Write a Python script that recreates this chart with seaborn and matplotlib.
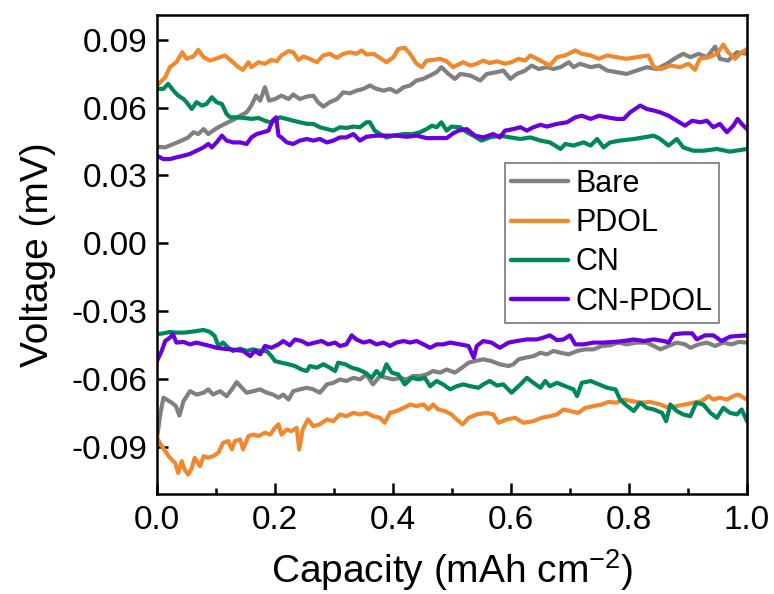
import numpy as np
import pandas as pd
import matplotlib
matplotlib.use("Agg")
import matplotlib.pyplot as plt
import seaborn as sns
from matplotlib.ticker import MultipleLocator, FormatStrFormatter

samples = ["Bare", "PDOL", "CN", "CN-PDOL"]
colors = ["#808080", "#f0892e", "#00875a", "#6a00dc"]

# ---- charge branch (positive voltage) ----
bare_cx = [0.0, 0.014, 0.028, 0.042, 0.053, 0.062, 0.070, 0.079, 0.087, 0.095,
           0.104, 0.115, 0.129, 0.141, 0.152, 0.160, 0.168, 0.175, 0.183, 0.190,
           0.200, 0.211, 0.223, 0.231, 0.242, 0.254, 0.265, 0.273, 0.282, 0.293,
           0.305, 0.316, 0.327, 0.338, 0.350, 0.361, 0.372, 0.384, 0.395, 0.406,
           0.418, 0.429, 0.440, 0.451, 0.463, 0.474, 0.482, 0.494, 0.505,
           0.514, 0.531, 0.548, 0.559, 0.576, 0.587, 0.599, 0.610, 0.624, 0.635,
           0.647, 0.661, 0.672, 0.684, 0.698, 0.706, 0.717, 0.735, 0.749, 0.763,
           0.779, 0.796, 0.813, 0.830, 0.847, 0.864, 0.881, 0.892, 0.904, 0.918,
           0.932, 0.946, 0.954, 0.968, 0.983, 1.0]
bare_cy = [0.0427, 0.0424, 0.0439, 0.0454, 0.0468, 0.0491, 0.0483, 0.0505, 0.0483, 0.0498,
           0.0513, 0.0528, 0.0545, 0.0564, 0.0579, 0.0609, 0.0653, 0.0631, 0.0690, 0.0631,
           0.0638, 0.0653, 0.0638, 0.0658, 0.0638, 0.0649, 0.0653, 0.0624, 0.0604, 0.0624,
           0.0638, 0.0668, 0.0663, 0.0675, 0.0683, 0.0698, 0.0683, 0.0675, 0.0683, 0.0668,
           0.0690, 0.0698, 0.0720, 0.0727, 0.0742, 0.0757, 0.0779, 0.0749, 0.0727,
           0.0749, 0.0742, 0.0720, 0.0749, 0.0757, 0.0764, 0.0727, 0.0749, 0.0764, 0.0786,
           0.0771, 0.0779, 0.0771, 0.0779, 0.0801, 0.0779, 0.0794, 0.0779, 0.0786, 0.0764,
           0.0757, 0.0749, 0.0764, 0.0779, 0.0771, 0.0794, 0.0823, 0.0838, 0.0823, 0.0838,
           0.0823, 0.0870, 0.0816, 0.0808, 0.0845, 0.0838]

pdol_cx = [0.0, 0.014, 0.022, 0.033, 0.043, 0.050, 0.062, 0.070, 0.079, 0.090,
           0.104, 0.115, 0.127, 0.138, 0.146, 0.155, 0.160, 0.172, 0.183, 0.194,
           0.203, 0.211, 0.223, 0.231, 0.240, 0.248, 0.259, 0.271, 0.282, 0.293,
           0.305, 0.316, 0.327, 0.338, 0.347, 0.355, 0.367, 0.378, 0.389, 0.401,
           0.409, 0.420, 0.429, 0.440, 0.449, 0.457, 0.468, 0.480, 0.491, 0.502,
           0.519, 0.531, 0.542, 0.553, 0.564, 0.576, 0.590, 0.601, 0.613, 0.624,
           0.633, 0.644, 0.655, 0.666, 0.678, 0.692, 0.709, 0.720, 0.735, 0.749,
           0.763, 0.779, 0.796, 0.813, 0.833, 0.842, 0.855, 0.870, 0.887, 0.901,
           0.912, 0.920, 0.935, 0.949, 0.960, 0.968, 0.980, 0.988, 1.0]
pdol_cy = [0.0698, 0.0734, 0.0779, 0.0801, 0.0845, 0.0816, 0.0826, 0.0856, 0.0823, 0.0808,
           0.0820, 0.0831, 0.0805, 0.0779, 0.0767, 0.0801, 0.0779, 0.0801, 0.0794, 0.0811,
           0.0805, 0.0831, 0.0850, 0.0845, 0.0811, 0.0826, 0.0816, 0.0801, 0.0831, 0.0838,
           0.0820, 0.0838, 0.0845, 0.0838, 0.0853, 0.0835, 0.0838, 0.0820, 0.0801, 0.0823,
           0.0860, 0.0865, 0.0838, 0.0794, 0.0779, 0.0808, 0.0811, 0.0816, 0.0805, 0.0779,
           0.0801, 0.0786, 0.0794, 0.0808, 0.0797, 0.0805, 0.0794, 0.0801, 0.0816, 0.0808,
           0.0831, 0.0816, 0.0801, 0.0786, 0.0823, 0.0831, 0.0853, 0.0838, 0.0831, 0.0816,
           0.0831, 0.0823, 0.0816, 0.0823, 0.0831, 0.0779, 0.0771, 0.0786, 0.0779, 0.0794,
           0.0767, 0.0816, 0.0823, 0.0838, 0.0879, 0.0845, 0.0816, 0.0838, 0.0860]

cn_cx = [0.0, 0.011, 0.019, 0.028, 0.036, 0.045, 0.050, 0.059, 0.067, 0.076,
         0.084, 0.093, 0.101, 0.110, 0.118, 0.124, 0.135, 0.149, 0.160, 0.172,
         0.183, 0.192, 0.200, 0.208, 0.220, 0.231, 0.242, 0.254, 0.265, 0.276,
         0.288, 0.299, 0.310, 0.321, 0.333, 0.344, 0.355, 0.361, 0.369, 0.378,
         0.389, 0.401, 0.418, 0.434, 0.446, 0.457, 0.466, 0.474, 0.482, 0.491,
         0.499,
         0.514, 0.525, 0.536, 0.550, 0.564, 0.581, 0.599, 0.616, 0.633, 0.650,
         0.666, 0.684, 0.692, 0.706, 0.723, 0.735, 0.746, 0.757, 0.768, 0.785,
         0.808, 0.825, 0.842, 0.853, 0.867, 0.881, 0.892, 0.909, 0.926, 0.949,
         0.971, 1.0]
cn_cy = [0.0683, 0.0683, 0.0705, 0.0675, 0.0653, 0.0638, 0.0624, 0.0594, 0.0624, 0.0609,
         0.0616, 0.0646, 0.0624, 0.0616, 0.0572, 0.0557, 0.0557, 0.0554, 0.0550, 0.0554,
         0.0542, 0.0535, 0.0542, 0.0557, 0.0550, 0.0542, 0.0535, 0.0528, 0.0528, 0.0513,
         0.0505, 0.0498, 0.0513, 0.0510, 0.0516, 0.0513, 0.0535, 0.0535, 0.0498, 0.0483,
         0.0468, 0.0476, 0.0483, 0.0483, 0.0491, 0.0505, 0.0520, 0.0513, 0.0535, 0.0498,
         0.0516,
         0.0513, 0.0491, 0.0476, 0.0454, 0.0468, 0.0476, 0.0468, 0.0461, 0.0468, 0.0454,
         0.0446, 0.0417, 0.0439, 0.0432, 0.0446, 0.0432, 0.0461, 0.0424, 0.0446, 0.0454,
         0.0461, 0.0468, 0.0476, 0.0461, 0.0432, 0.0461, 0.0424, 0.0409, 0.0409, 0.0417,
         0.0405, 0.0417]

cnp_cx = [0.0, 0.011, 0.022, 0.033, 0.045, 0.056, 0.067, 0.079, 0.087, 0.093,
          0.101, 0.110, 0.118, 0.129, 0.141, 0.152, 0.160, 0.169, 0.180, 0.189,
          0.196, 0.202, 0.206, 0.211, 0.220, 0.231, 0.242, 0.254, 0.265, 0.276,
          0.288, 0.299, 0.310, 0.321, 0.333, 0.344, 0.355, 0.372, 0.389, 0.406,
          0.423, 0.440, 0.457, 0.474, 0.491, 0.502,
          0.511, 0.525, 0.539, 0.553, 0.570, 0.581, 0.590, 0.604, 0.616, 0.627,
          0.638, 0.650, 0.661, 0.678, 0.695, 0.709, 0.720, 0.735, 0.749, 0.763,
          0.779, 0.791, 0.802, 0.819, 0.830, 0.842, 0.853, 0.867, 0.881, 0.895,
          0.907, 0.921, 0.932, 0.943, 0.954, 0.966, 0.977, 0.984, 0.991, 1.0]
cnp_cy = [0.0387, 0.0372, 0.0372, 0.0380, 0.0387, 0.0395, 0.0409, 0.0424, 0.0439, 0.0424,
          0.0446, 0.0476, 0.0454, 0.0446, 0.0446, 0.0439, 0.0468, 0.0483, 0.0491, 0.0498,
          0.0542, 0.0557, 0.0476, 0.0468, 0.0446, 0.0439, 0.0454, 0.0461, 0.0454, 0.0461,
          0.0446, 0.0454, 0.0468, 0.0468, 0.0483, 0.0454, 0.0471, 0.0476, 0.0476, 0.0476,
          0.0471, 0.0476, 0.0465, 0.0465, 0.0465, 0.0486,
          0.0498, 0.0505, 0.0476, 0.0468, 0.0483, 0.0468, 0.0498, 0.0505, 0.0513, 0.0498,
          0.0513, 0.0524, 0.0516, 0.0528, 0.0535, 0.0557, 0.0564, 0.0550, 0.0564, 0.0557,
          0.0550, 0.0550, 0.0579, 0.0609, 0.0594, 0.0587, 0.0579, 0.0564, 0.0542, 0.0520,
          0.0542, 0.0535, 0.0542, 0.0513, 0.0528, 0.0491, 0.0520, 0.0550, 0.0528, 0.0505]

# ---- discharge branch (negative voltage) ----
bare_dx = [0.0, 0.006, 0.011, 0.016, 0.025, 0.032, 0.038, 0.045, 0.056, 0.067,
           0.079, 0.087, 0.095, 0.107, 0.118, 0.127, 0.135, 0.144, 0.152, 0.163,
           0.175, 0.186, 0.197, 0.206, 0.214, 0.223, 0.231, 0.242, 0.254, 0.265,
           0.276, 0.288, 0.299, 0.310, 0.321, 0.333, 0.344, 0.355, 0.366, 0.378,
           0.389, 0.401, 0.412, 0.423, 0.434, 0.446, 0.457, 0.468, 0.480, 0.491,
           0.505, 0.517, 0.528, 0.539, 0.553, 0.567, 0.581, 0.596, 0.604, 0.613,
           0.624, 0.638, 0.650, 0.661, 0.672, 0.684, 0.698, 0.712, 0.726, 0.740,
           0.754, 0.768, 0.782, 0.796, 0.813, 0.830, 0.842, 0.853, 0.867, 0.881,
           0.895, 0.904, 0.918, 0.932, 0.946, 0.960, 0.974, 0.986, 1.0]
bare_dy = [-0.0862, -0.0751, -0.0684, -0.0692, -0.0706, -0.0721, -0.0763, -0.0699, -0.0655, -0.0670,
           -0.0662, -0.0647, -0.0670, -0.0655, -0.0677, -0.0647, -0.0615, -0.0640, -0.0662, -0.0655,
           -0.0647, -0.0662, -0.0670, -0.0684, -0.0670, -0.0692, -0.0655, -0.0647, -0.0640, -0.0647,
           -0.0662, -0.0625, -0.0618, -0.0603, -0.0610, -0.0596, -0.0603, -0.0581, -0.0625, -0.0588,
           -0.0596, -0.0603, -0.0596, -0.0603, -0.0588, -0.0588, -0.0581, -0.0566, -0.0573, -0.0559,
           -0.0573, -0.0551, -0.0529, -0.0522, -0.0514, -0.0522, -0.0536, -0.0544, -0.0536, -0.0514,
           -0.0507, -0.0500, -0.0485, -0.0492, -0.0477, -0.0485, -0.0492, -0.0477, -0.0470, -0.0470,
           -0.0455, -0.0452, -0.0440, -0.0448, -0.0440, -0.0440, -0.0455, -0.0470, -0.0455, -0.0440,
           -0.0448, -0.0463, -0.0448, -0.0440, -0.0455, -0.0440, -0.0448, -0.0437, -0.0440]

pdol_dx = [0.0, 0.005, 0.014, 0.022, 0.031, 0.036, 0.042, 0.047, 0.053, 0.059,
           0.064, 0.073, 0.079, 0.087, 0.095, 0.104, 0.112, 0.121, 0.127, 0.132,
           0.141, 0.146, 0.155, 0.163, 0.172, 0.183, 0.192, 0.200, 0.206, 0.211,
           0.220, 0.228, 0.237, 0.241, 0.247, 0.256, 0.265, 0.276, 0.288, 0.299,
           0.310, 0.321, 0.333, 0.344, 0.355, 0.367, 0.378, 0.386, 0.395, 0.406,
           0.418, 0.429, 0.440, 0.452, 0.460, 0.468, 0.477, 0.488, 0.499,
           0.508, 0.518, 0.528, 0.542, 0.559, 0.570, 0.579, 0.593, 0.607, 0.621,
           0.638, 0.652, 0.666, 0.678, 0.689, 0.700, 0.714, 0.726, 0.740, 0.754,
           0.765, 0.779, 0.791, 0.805, 0.819, 0.836, 0.853, 0.867, 0.881, 0.895,
           0.909, 0.923, 0.935, 0.943, 0.954, 0.966, 0.977, 0.985, 1.0]
pdol_dy = [-0.0862, -0.0884, -0.0921, -0.0950, -0.0973, -0.1017, -0.0965, -0.1002, -0.1024, -0.0995,
           -0.0950, -0.0987, -0.0943, -0.0950, -0.0943, -0.0928, -0.0884, -0.0876, -0.0913, -0.0876,
           -0.0869, -0.0913, -0.0854, -0.0847, -0.0854, -0.0839, -0.0847, -0.0817, -0.0802, -0.0847,
           -0.0825, -0.0832, -0.0817, -0.0913, -0.0825, -0.0780, -0.0810, -0.0802, -0.0780, -0.0788,
           -0.0758, -0.0766, -0.0751, -0.0758, -0.0751, -0.0766, -0.0773, -0.0795, -0.0751, -0.0743,
           -0.0729, -0.0714, -0.0721, -0.0714, -0.0736, -0.0714, -0.0736, -0.0743, -0.0758,
           -0.0780, -0.0802, -0.0773, -0.0758, -0.0751, -0.0758, -0.0795, -0.0780, -0.0773, -0.0795,
           -0.0788, -0.0773, -0.0766, -0.0758, -0.0736, -0.0743, -0.0751, -0.0729, -0.0721, -0.0714,
           -0.0703, -0.0706, -0.0692, -0.0699, -0.0706, -0.0703, -0.0714, -0.0729, -0.0721, -0.0714,
           -0.0706, -0.0699, -0.0677, -0.0692, -0.0684, -0.0692, -0.0677, -0.0670, -0.0692]

cn_dx = [0.0, 0.011, 0.022, 0.033, 0.045, 0.056, 0.067, 0.079, 0.090, 0.098,
         0.104, 0.112, 0.121, 0.129, 0.141, 0.152, 0.163, 0.175, 0.186, 0.194,
         0.200, 0.211, 0.223, 0.234, 0.245, 0.254, 0.259, 0.271, 0.282, 0.293,
         0.302, 0.307, 0.319, 0.330, 0.341, 0.353, 0.364, 0.372, 0.381, 0.389,
         0.398, 0.409, 0.420, 0.432, 0.443, 0.454, 0.463, 0.474, 0.485, 0.497,
         0.508, 0.519, 0.531, 0.545, 0.553, 0.564, 0.576, 0.587, 0.601, 0.616,
         0.627, 0.638, 0.650, 0.658, 0.666, 0.678, 0.692, 0.706, 0.712, 0.720,
         0.735, 0.749, 0.763, 0.777, 0.785, 0.794, 0.808, 0.819, 0.830, 0.842,
         0.856, 0.863, 0.870, 0.881, 0.892, 0.904, 0.914, 0.926, 0.938, 0.949,
         0.960, 0.971, 0.983, 0.991, 1.0]
cn_dy = [-0.0403, -0.0399, -0.0393, -0.0396, -0.0396, -0.0393, -0.0389, -0.0384, -0.0393, -0.0411,
         -0.0455, -0.0440, -0.0463, -0.0477, -0.0467, -0.0477, -0.0470, -0.0477, -0.0477, -0.0500,
         -0.0522, -0.0529, -0.0536, -0.0544, -0.0559, -0.0566, -0.0544, -0.0551, -0.0536, -0.0551,
         -0.0566, -0.0529, -0.0536, -0.0551, -0.0559, -0.0573, -0.0596, -0.0566, -0.0588, -0.0536,
         -0.0573, -0.0581, -0.0625, -0.0596, -0.0603, -0.0596, -0.0633, -0.0610, -0.0625, -0.0647,
         -0.0633, -0.0625, -0.0633, -0.0640, -0.0625, -0.0610, -0.0630, -0.0625, -0.0662, -0.0625,
         -0.0596, -0.0618, -0.0640, -0.0610, -0.0633, -0.0618, -0.0633, -0.0647, -0.0677, -0.0618,
         -0.0610, -0.0625, -0.0640, -0.0647, -0.0692, -0.0714, -0.0743, -0.0706, -0.0729, -0.0736,
         -0.0751, -0.0788, -0.0714, -0.0743, -0.0758, -0.0766, -0.0706, -0.0714, -0.0751, -0.0773,
         -0.0729, -0.0751, -0.0758, -0.0736, -0.0788]

cnp_dx = [0.0, 0.008, 0.014, 0.022, 0.027, 0.033, 0.045, 0.056, 0.067, 0.079,
          0.090, 0.101, 0.112, 0.124, 0.135, 0.146, 0.158, 0.166, 0.175, 0.183,
          0.194, 0.206, 0.214, 0.225, 0.234, 0.245, 0.256, 0.268, 0.279, 0.290,
          0.302, 0.310, 0.321, 0.330, 0.338, 0.350, 0.361, 0.372, 0.384, 0.395,
          0.406, 0.418, 0.429, 0.440, 0.452, 0.463, 0.474, 0.485, 0.497,
          0.514, 0.528, 0.537, 0.542, 0.553, 0.567, 0.581, 0.596, 0.610, 0.627,
          0.644, 0.655, 0.666, 0.678, 0.689, 0.700, 0.709, 0.723, 0.740, 0.757,
          0.774, 0.791, 0.808, 0.825, 0.842, 0.859, 0.867, 0.876, 0.892, 0.907,
          0.915, 0.929, 0.943, 0.957, 0.971, 0.983, 1.0]
cnp_dy = [-0.0522, -0.0477, -0.0433, -0.0418, -0.0403, -0.0440, -0.0437, -0.0448, -0.0440, -0.0448,
          -0.0455, -0.0463, -0.0467, -0.0470, -0.0473, -0.0477, -0.0500, -0.0477, -0.0492, -0.0455,
          -0.0463, -0.0448, -0.0433, -0.0452, -0.0426, -0.0433, -0.0448, -0.0440, -0.0433, -0.0448,
          -0.0440, -0.0455, -0.0448, -0.0408, -0.0426, -0.0440, -0.0433, -0.0448, -0.0440, -0.0455,
          -0.0440, -0.0433, -0.0440, -0.0433, -0.0448, -0.0463, -0.0448, -0.0448, -0.0440,
          -0.0448, -0.0455, -0.0507, -0.0455, -0.0433, -0.0440, -0.0463, -0.0440, -0.0433, -0.0426,
          -0.0426, -0.0418, -0.0408, -0.0429, -0.0426, -0.0408, -0.0448, -0.0448, -0.0440, -0.0440,
          -0.0437, -0.0433, -0.0426, -0.0433, -0.0426, -0.0433, -0.0440, -0.0403, -0.0399, -0.0399,
          -0.0426, -0.0408, -0.0408, -0.0433, -0.0414, -0.0411, -0.0408]

branches = {
    "Bare": [(bare_cx, bare_cy), (bare_dx, bare_dy)],
    "PDOL": [(pdol_cx, pdol_cy), (pdol_dx, pdol_dy)],
    "CN": [(cn_cx, cn_cy), (cn_dx, cn_dy)],
    "CN-PDOL": [(cnp_cx, cnp_cy), (cnp_dx, cnp_dy)],
}

frames = []
for name in samples:
    for k, (xs, ys) in enumerate(branches[name]):
        frames.append(pd.DataFrame({"cap": xs, "volt": ys, "sample": name,
                                    "branch": ["charge", "discharge"][k]}))
df = pd.concat(frames, ignore_index=True)

sns.set_style("ticks")
plt.rcParams["font.family"] = ["Liberation Sans", "DejaVu Sans"]
plt.rcParams["mathtext.fontset"] = "custom"
plt.rcParams["mathtext.rm"] = "Liberation Sans"
plt.rcParams["mathtext.it"] = "Liberation Sans:italic"
plt.rcParams["axes.unicode_minus"] = False
plt.rcParams["text.color"] = "black"
plt.rcParams["axes.labelcolor"] = "black"

fig = plt.figure(figsize=(7.74, 5.94), dpi=100)
ax = fig.add_axes([0.2028, 0.1684, 0.7623, 0.8064])

sns.lineplot(data=df, x="cap", y="volt", hue="sample", hue_order=samples,
             units="branch", estimator=None, sort=False, palette=colors,
             linewidth=3.0, ax=ax)

ax.set_xlim(0, 1.0)
ax.set_ylim(-0.111, 0.101)
ax.set_xticks(np.arange(0, 1.01, 0.2))
ax.xaxis.set_minor_locator(MultipleLocator(0.1))
ax.set_yticks(np.arange(-0.09, 0.091, 0.03))
ax.xaxis.set_major_formatter(FormatStrFormatter("%.1f"))
ax.yaxis.set_major_formatter(FormatStrFormatter("%.2f"))

ax.tick_params(which="major", direction="in", length=8, width=1.8,
               labelsize=24, colors="black")
ax.tick_params(axis="y", which="major", pad=7)
ax.tick_params(axis="x", which="major", pad=8)
ax.tick_params(which="minor", direction="in", length=4, width=1.8, colors="black")
ax.tick_params(top=False, right=False, which="both")
for sp in ax.spines.values():
    sp.set_linewidth(1.8)
    sp.set_color("black")

ax.set_xlabel("Capacity (mAh cm$^{-2}$)", fontsize=28, labelpad=8)
ax.set_ylabel("Voltage (mV)", fontsize=28, labelpad=11)

handles, labels = ax.get_legend_handles_labels()
for h in handles:
    h.set_linewidth(3.2)
leg = ax.legend(handles, labels, loc="upper left", bbox_to_anchor=(0.590, 0.691),
                fontsize=22, frameon=True, fancybox=False, edgecolor="#777777",
                framealpha=1, borderpad=0.2, labelspacing=0.3, handlelength=1.85,
                handletextpad=0.25, borderaxespad=0)
leg.get_frame().set_linewidth(1.2)

fig.savefig("out.png", dpi=100)
